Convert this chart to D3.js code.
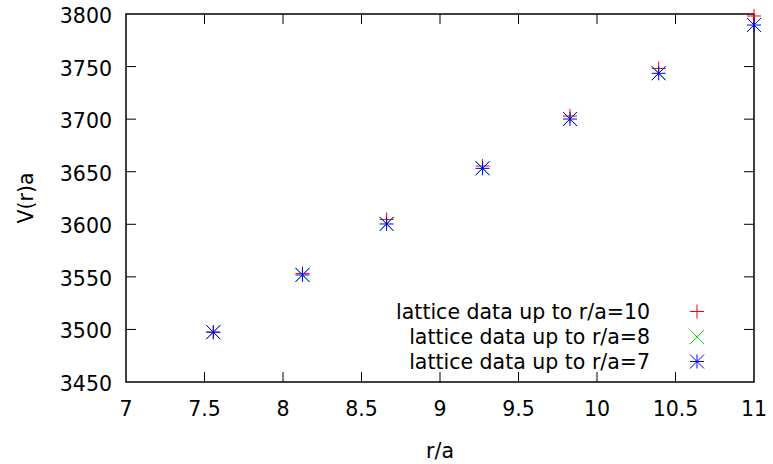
<!DOCTYPE html>
<html>
<head>
<meta charset="utf-8">
<script src="https://cdn.jsdelivr.net/npm/d3@7"></script>
<style>
  body { margin: 0; background: #fff; }
  text { font-family: "DejaVu Sans", sans-serif; font-size: 20.5px; fill: #000; }
</style>
</head>
<body>
<svg id="chart" width="773" height="464"></svg>
<script>
// r/a positions of the lattice points
var rValues = [7.556, 8.124, 8.660, 9.271, 9.828, 10.393, 11.0];
// V(r)a for each fit range
var vUpTo10 = [3497.4, 3553.3, 3604.6, 3655.4, 3703.0, 3748.2, 3798.1];
var vUpTo8 = [3497.4, 3552.0, 3600.5, 3653.4, 3700.3, 3743.8, 3789.6];
var vUpTo7 = [3497.4, 3551.8, 3600.3, 3653.2, 3700.1, 3743.6, 3789.5];

var xTicks = [7, 7.5, 8, 8.5, 9, 9.5, 10, 10.5, 11];
var yTicks = [3450, 3500, 3550, 3600, 3650, 3700, 3750, 3800];

var seriesNames = ['lattice data up to r/a=10', 'lattice data up to r/a=8', 'lattice data up to r/a=7'];
var seriesColors = ['#ff0000', '#00e000', '#0000ff'];
var seriesShapes = ['plus', 'cross', 'star'];
var seriesValues = [vUpTo10, vUpTo8, vUpTo7];

(function() {
    var svg = d3.select('#chart');
    var plotL = 126, plotR = 754, plotT = 14, plotB = 382;

    var x = d3.scaleLinear().domain([7, 11]).range([plotL, plotR]);
    var y = d3.scaleLinear().domain([3450, 3800]).range([plotB, plotT]);

    // draw a gnuplot-like point symbol
    function symbolPath(shape, s) {
        var p = d3.path();
        if (shape === 'plus' || shape === 'star') {
            p.moveTo(-s, 0); p.lineTo(s, 0);
            p.moveTo(0, -s); p.lineTo(0, s);
        }
        if (shape === 'cross' || shape === 'star') {
            p.moveTo(-s, -s); p.lineTo(s, s);
            p.moveTo(-s, s); p.lineTo(s, -s);
        }
        return p.toString();
    }

    // ticks inward and mirrored
    var tickLen = 10;
    var axisG = svg.append('g').attr('stroke', '#000').attr('stroke-width', 1);
    xTicks.forEach(function(t) {
        if (t === 7 || t === 11) return;
        axisG.append('line').attr('x1', x(t)).attr('x2', x(t)).attr('y1', plotB).attr('y2', plotB - tickLen);
        axisG.append('line').attr('x1', x(t)).attr('x2', x(t)).attr('y1', plotT).attr('y2', plotT + tickLen);
    });
    yTicks.forEach(function(t) {
        if (t === 3450 || t === 3800) return;
        axisG.append('line').attr('x1', plotL).attr('x2', plotL + tickLen).attr('y1', y(t)).attr('y2', y(t));
        axisG.append('line').attr('x1', plotR).attr('x2', plotR - tickLen).attr('y1', y(t)).attr('y2', y(t));
    });
    svg.append('rect')
        .attr('x', plotL).attr('y', plotT)
        .attr('width', plotR - plotL).attr('height', plotB - plotT)
        .attr('fill', 'none').attr('stroke', '#000').attr('stroke-width', 1.5);

    svg.selectAll('text.xtick').data(xTicks).enter().append('text')
        .attr('class', 'xtick')
        .attr('x', function(d) { return x(d); })
        .attr('y', plotB + 34)
        .attr('text-anchor', 'middle')
        .text(function(d) { return d; });

    svg.selectAll('text.ytick').data(yTicks).enter().append('text')
        .attr('class', 'ytick')
        .attr('x', plotL - 14)
        .attr('y', function(d) { return y(d) + 9; })
        .attr('text-anchor', 'end')
        .text(function(d) { return d; });

    svg.append('text')
        .attr('x', (plotL + plotR) / 2).attr('y', 458)
        .attr('text-anchor', 'middle')
        .text('r/a');

    svg.append('text')
        .attr('transform', 'translate(33,' + ((plotT + plotB) / 2) + ') rotate(-90)')
        .attr('text-anchor', 'middle')
        .text('V(r)a');

    // points, drawn in gnuplot order so blue ends on top
    seriesValues.forEach(function(vals, i) {
        svg.append('g').selectAll('path').data(vals).enter().append('path')
            .attr('transform', function(d, j) { return 'translate(' + x(rValues[j]) + ',' + y(d) + ')'; })
            .attr('d', symbolPath(seriesShapes[i], 7))
            .attr('fill', 'none')
            .attr('stroke', seriesColors[i])
            .attr('stroke-width', 1);
    });

    // legend
    var legendY = [311.5, 337, 361.5];
    seriesNames.forEach(function(name, i) {
        svg.append('text')
            .attr('x', 650).attr('y', legendY[i] + 7)
            .attr('text-anchor', 'end')
            .text(name);
        svg.append('path')
            .attr('transform', 'translate(697,' + legendY[i] + ')')
            .attr('d', symbolPath(seriesShapes[i], 7))
            .attr('fill', 'none')
            .attr('stroke', seriesColors[i])
            .attr('stroke-width', 1);
    });
})();
</script>
</body>
</html>
